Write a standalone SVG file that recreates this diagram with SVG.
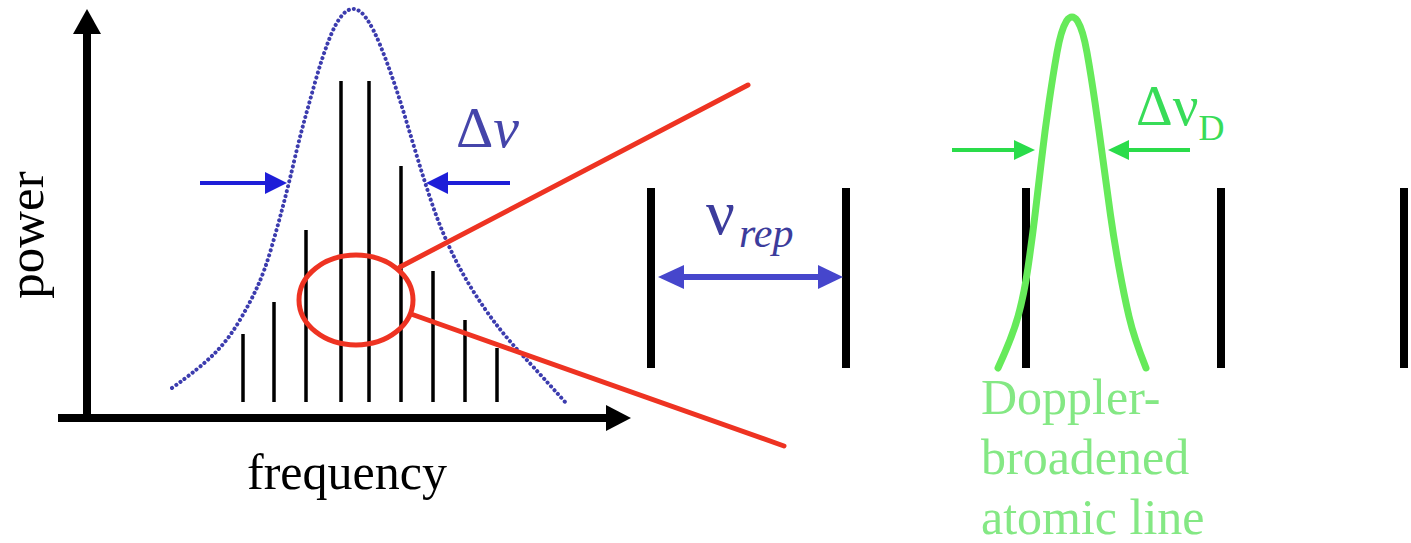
<svg xmlns="http://www.w3.org/2000/svg" width="1411" height="543" viewBox="0 0 1411 543">
<style>
.axis{stroke:#000;stroke-width:8;fill:none}
.head{fill:#000}
.comb{stroke:#000;stroke-width:3.5}
.combR{stroke:#000;stroke-width:8}
.env{fill:none;stroke:#3c3cae;stroke-width:4;stroke-dasharray:0.1 5;stroke-linecap:round}
.barrow{stroke:#1e1ed8;stroke-width:4;fill:none}
.bhead{fill:#1e1ed8}
.red{stroke:#ee3322;stroke-width:5;fill:none;stroke-linecap:round}
.rep{stroke:#4646cc;stroke-width:6;fill:none}
.rhead{fill:#4646cc}
.dop{fill:none;stroke:#66ea5a;stroke-width:7;stroke-linecap:round}
.garrow{stroke:#2adc4a;stroke-width:4;fill:none}
.ghead{fill:#2adc4a}
.serif{font-family:"Liberation Serif","Times New Roman",serif}
</style>
<rect width="1411" height="543" fill="#fff"/>

<g id="axes">
  <line class="axis" x1="87" y1="30" x2="87" y2="422"/>
  <polygon class="head" points="87,9 73,34 101,34"/>
  <line class="axis" x1="58" y1="418" x2="610" y2="418"/>
  <polygon class="head" points="631,418 606,405 606,431"/>
  <text class="serif" font-size="51" fill="#000" text-anchor="middle" transform="translate(43,235) rotate(-90)">power</text>
  <text class="serif" font-size="50" fill="#000" x="247" y="489">frequency</text>
</g>

<g id="envelope">
  <path class="env" d="M172,388 Q200,368 214,354 Q228,340 239,321.5 Q250,303 257.5,286.5 Q265,270 271.5,247.5 Q278,225 283.5,204 Q289,183 294,161.5 Q299,140 304.5,120 Q310,100 316,79 Q322,58 328.5,41 Q335,24 341.5,16 Q348,8 354.5,9 Q361,10 367.5,20 Q374,30 380.5,46 Q387,62 393.5,81 Q400,100 406,120 Q412,140 418.5,161.5 Q425,183 432.5,205 Q440,227 450,248.5 Q460,270 472.5,290 Q485,310 497.5,326 Q510,342 525,358 Q540,374 566,403"/>
</g>

<g id="comb-left">
  <line class="comb" x1="243" y1="334" x2="243" y2="402"/>
  <line class="comb" x1="274" y1="302" x2="274" y2="402"/>
  <line class="comb" x1="306" y1="230" x2="306" y2="402" stroke-width="4.5"/>
  <line class="comb" x1="341" y1="81" x2="341" y2="402"/>
  <line class="comb" x1="369" y1="81" x2="369" y2="402"/>
  <line class="comb" x1="401" y1="166" x2="401" y2="402"/>
  <line class="comb" x1="433" y1="271" x2="433" y2="402" stroke-width="4.5"/>
  <line class="comb" x1="465" y1="320" x2="465" y2="402"/>
  <line class="comb" x1="497" y1="348" x2="497" y2="402"/>
</g>

<g id="delta-nu">
  <line class="barrow" x1="200" y1="183" x2="268" y2="183"/>
  <polygon class="bhead" points="287,183 265,172 265,194"/>
  <line class="barrow" x1="445" y1="183" x2="510" y2="183"/>
  <polygon class="bhead" points="426,183 448,172 448,194"/>
  <text class="serif" font-size="58" fill="#4545aa" x="456" y="147">Δ<tspan font-style="italic">ν</tspan></text>
</g>

<g id="zoom-circle">
  <ellipse class="red" cx="356" cy="300" rx="57" ry="45"/>
</g>

<g id="connectors">
  <line class="red" x1="400" y1="267" x2="748" y2="85"/>
  <line class="red" x1="411" y1="314" x2="784" y2="446"/>
</g>

<g id="comb-right">
  <line class="combR" x1="651" y1="188" x2="651" y2="368"/>
  <line class="combR" x1="846" y1="188" x2="846" y2="368"/>
  <line class="combR" x1="1026" y1="188" x2="1026" y2="368"/>
  <line class="combR" x1="1221" y1="188" x2="1221" y2="368"/>
  <line class="combR" x1="1404" y1="188" x2="1404" y2="368"/>
</g>

<g id="nu-rep">
  <line class="rep" x1="680" y1="277" x2="822" y2="277"/>
  <polygon class="rhead" points="658,277 684,265 684,289"/>
  <polygon class="rhead" points="843,277 818,265 818,289"/>
  <text class="serif" font-size="64" fill="#3c3c9c" x="706" y="234">ν</text>
  <text class="serif" font-size="42" font-style="italic" fill="#3c3c9c" x="739" y="247">rep</text>
</g>

<g id="doppler-line">
  <path class="dop" d="M998,368 Q1012,338 1018,316.5 Q1024,295 1028,267.5 Q1032,240 1035,215 Q1038,190 1041.5,160 Q1045,130 1049,102.5 Q1053,75 1057,52.5 Q1061,30 1066.5,21 Q1072,13 1077.5,21 Q1083,30 1087,52.5 Q1091,75 1095,102.5 Q1099,130 1103,160 Q1107,190 1110.5,215 Q1114,240 1119,267.5 Q1124,295 1129,316.5 Q1134,338 1146,368"/>
  <line class="garrow" x1="952" y1="150" x2="1018" y2="150"/>
  <polygon class="ghead" points="1035,150 1014,140 1014,160"/>
  <line class="garrow" x1="1126" y1="150" x2="1190" y2="150"/>
  <polygon class="ghead" points="1108,150 1129,140 1129,160"/>
  <text class="serif" font-size="57" fill="#38dc58" x="1136" y="125">Δν<tspan font-size="36" dy="15">D</tspan></text>
  <text class="serif" font-size="50" fill="#84e884" x="981" y="414">Doppler-</text>
  <text class="serif" font-size="50" fill="#84e884" x="981" y="474">broadened</text>
  <text class="serif" font-size="50" fill="#84e884" x="981" y="534">atomic line</text>
</g>
</svg>
